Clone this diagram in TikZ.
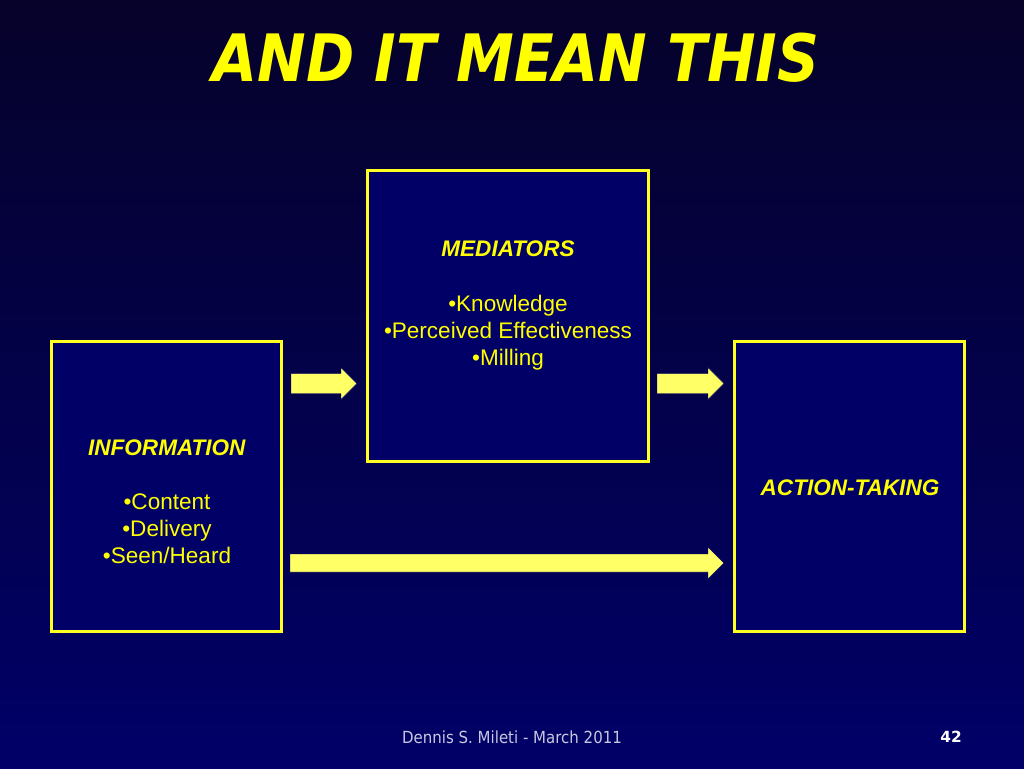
\documentclass[tikz,border=0pt]{standalone}
\usepackage{fontspec}
\setmainfont{Liberation Sans}
\newfontfamily\titlefont[FakeStretch=0.89]{DejaVu Sans}
\newfontfamily\numfont{DejaVu Sans}
\newfontfamily\footfont[FakeStretch=0.9]{DejaVu Sans}
\definecolor{bgtop}{HTML}{06022A}
\definecolor{bgbot}{HTML}{000068}
\definecolor{boxfill}{HTML}{000066}
\definecolor{ylw}{HTML}{FFFF22}
\definecolor{txty}{HTML}{FFFF00}
\definecolor{arrowy}{HTML}{FFFF66}
\definecolor{foot}{HTML}{C8C8E0}
\tikzset{
  panel/.style={draw=ylw, line width=2.25pt, fill=boxfill, inner sep=0pt},
  smallpanel/.style={panel, minimum width=172.5pt, minimum height=217.5pt},
  bodytext/.style={text=txty, align=center, inner sep=0pt, font=\fontsize{16.9pt}{20.25pt}\selectfont},
  blockarrow/.style={fill=arrowy, draw=black!60!blue, line width=0.3pt}
}
\newcommand{\blockarrowat}[5]{%
  \path[blockarrow] (#1,#4-#5) -- (#2,#4-#5) -- (#2,#4-16) -- (#3,#4) -- (#2,#4+16) -- (#2,#4+#5) -- (#1,#4+#5) -- cycle;}
\begin{document}
\begin{tikzpicture}[x=0.75pt,y=-0.75pt]
\shade[top color=bgtop,bottom color=bgbot] (0,0) rectangle (1024,768);
\useasboundingbox (0,0) rectangle (1024,768);

\node[text=txty, font=\titlefont\fontsize{49pt}{55pt}\selectfont\bfseries\itshape, inner sep=0pt] (title) at (516,58) {AND IT MEAN THIS};

\node[smallpanel] (info) at (166,486) {};
\node[panel, minimum width=210.75pt, minimum height=218.25pt] (med) at (507.5,315.5) {};
\node[smallpanel] (act) at (849,486) {};

\node[bodytext] (infotext) at (167,502) {\textbf{\textit{INFORMATION}}\\[20.5pt]•Content\\•Delivery\\•Seen/Heard};
\node[bodytext] (medtext) at (508,305.5) {\textbf{\textit{MEDIATORS}}\\[20.5pt]•Knowledge\\•Perceived Effectiveness\\•Milling};
\node[bodytext] (acttext) at (850,488) {\textbf{\textit{ACTION-TAKING}}};

\blockarrowat{291}{341}{357}{383.5}{10}
\blockarrowat{657}{708}{724}{383.5}{10}
\blockarrowat{290}{708}{724}{563}{9}

\node[text=foot, font=\footfont\fontsize{12.5pt}{14pt}\selectfont, inner sep=0pt] (footer) at (512,737) {Dennis S. Mileti - March 2011};
\node[text=white, font=\numfont\fontsize{11.5pt}{13pt}\selectfont\bfseries, inner sep=0pt] (page) at (951,737) {42};
\end{tikzpicture}
\end{document}
